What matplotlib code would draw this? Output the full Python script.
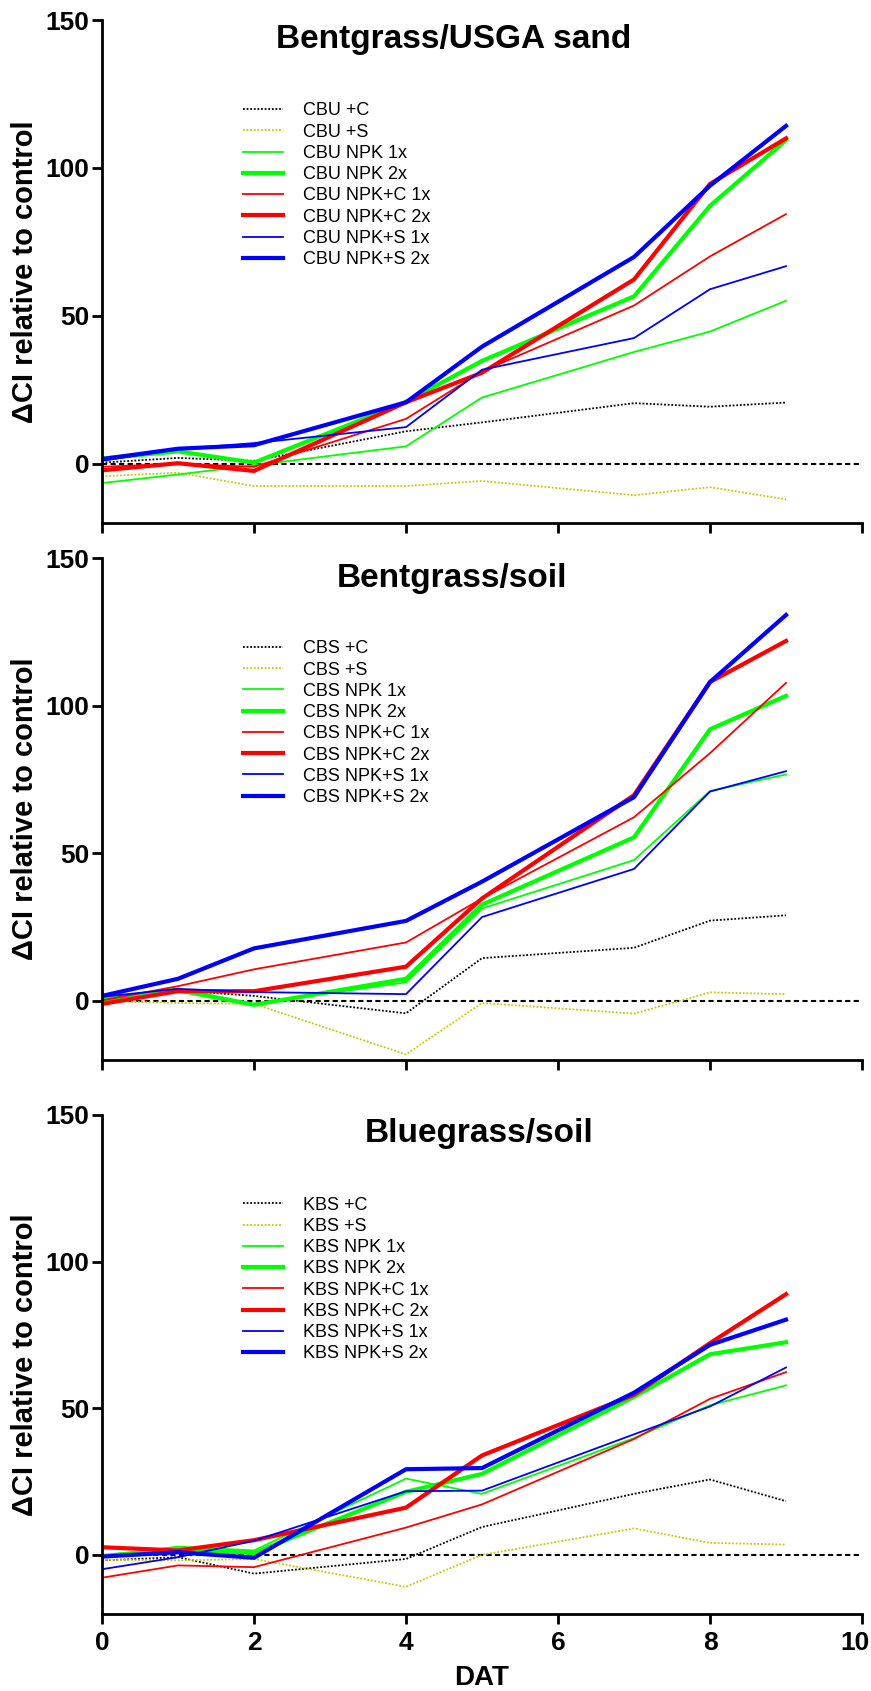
"""
Delta CI relative to control over DAT for three turf/substrate combinations.
"""

import matplotlib
matplotlib.use("Agg")
import matplotlib.pyplot as plt
from matplotlib import transforms


plt.rcParams["font.family"] = ["Liberation Sans", "DejaVu Sans"]

DAT = [0, 1, 2, 4, 5, 7, 8, 9]
TREATMENTS = ["+C", "+S", "NPK 1x", "NPK 2x", "NPK+C 1x", "NPK+C 2x", "NPK+S 1x", "NPK+S 2x"]
TITLES = ["Bentgrass/USGA sand", "Bentgrass/soil", "Bluegrass/soil"]
PREFIXES = ["CBU", "CBS", "KBS"]
Y_TICKS = [0, 50, 100, 150]
X_TICKS = [0, 2, 4, 6, 8, 10]

# Bentgrass / USGA sand
cbu_c = [0.4, 2.0, 1.0, 11.0, 14.0, 20.5, 19.3, 20.7]
cbu_s = [-4.2, -3.0, -7.5, -7.5, -5.8, -10.6, -7.9, -12.0]
cbu_npk1 = [-6.5, -3.6, -0.5, 5.9, 22.4, 37.8, 44.7, 55.1]
cbu_npk2 = [1.8, 4.2, 0.4, 20.9, 34.8, 56.6, 87.2, 109.4]
cbu_npkc1 = [-1.0, 0.0, -1.0, 15.2, 31.2, 53.5, 70.1, 84.4]
cbu_npkc2 = [-2.2, 0.2, -2.4, 20.8, 30.8, 62.3, 94.6, 110.0]
cbu_npks1 = [1.0, 5.0, 7.0, 12.4, 31.8, 42.5, 59.0, 66.8]
cbu_npks2 = [1.6, 5.1, 6.3, 20.8, 39.6, 69.9, 94.0, 114.2]

# Bentgrass / soil
cbs_c = [0.2, 3.6, 1.7, -4.2, 14.5, 18.0, 27.2, 29.0]
cbs_s = [0.0, -0.7, -1.0, -18.1, -0.7, -4.3, 2.9, 2.3]
cbs_npk1 = [1.0, 4.2, -1.0, 6.3, 31.3, 47.7, 71.1, 76.7]
cbs_npk2 = [0.2, 3.6, -1.3, 7.5, 32.6, 55.4, 92.0, 103.3]
cbs_npkc1 = [0.2, 5.0, 10.7, 19.8, 34.7, 62.2, 83.9, 107.7]
cbs_npkc2 = [-1.0, 3.3, 3.3, 11.6, 34.7, 69.7, 108.0, 121.9]
cbs_npks1 = [1.4, 4.1, 3.0, 2.3, 28.4, 44.7, 70.9, 77.8]
cbs_npks2 = [1.7, 7.5, 17.8, 27.1, 40.4, 69.0, 108.0, 130.7]

# Bluegrass / soil
kbs_c = [-1.9, -0.8, -6.4, -1.4, 9.5, 20.8, 25.7, 18.3]
kbs_s = [-1.7, -1.9, -1.4, -10.9, 0.0, 9.0, 4.1, 3.5]
kbs_npk1 = [-0.4, 2.8, 1.5, 26.0, 20.8, 39.8, 51.0, 57.8]
kbs_npk2 = [-0.4, 1.9, 0.6, 21.5, 27.6, 53.9, 68.4, 72.5]
kbs_npkc1 = [-7.8, -3.6, -4.2, 9.3, 17.2, 39.5, 53.2, 62.3]
kbs_npkc2 = [2.6, 1.5, 5.0, 16.1, 33.9, 54.6, 72.2, 88.9]
kbs_npks1 = [-4.9, -0.8, 4.8, 21.7, 21.9, 41.1, 50.6, 63.9]
kbs_npks2 = [-0.6, 0.9, -1.0, 29.2, 29.6, 55.3, 71.6, 80.2]

PANELS = [
    [cbu_c, cbu_s, cbu_npk1, cbu_npk2, cbu_npkc1, cbu_npkc2, cbu_npks1, cbu_npks2],
    [cbs_c, cbs_s, cbs_npk1, cbs_npk2, cbs_npkc1, cbs_npkc2, cbs_npks1, cbs_npks2],
    [kbs_c, kbs_s, kbs_npk1, kbs_npk2, kbs_npkc1, kbs_npkc2, kbs_npks1, kbs_npks2],
]

DOT = (0, (1, 1))
STYLES = [
    ("black", 1.3, DOT),
    ("#c8c800", 1.3, DOT),
    ("#00ff00", 1.3, "-"),
    ("#00ff00", 3.0, "-"),
    ("#ff0000", 1.3, "-"),
    ("#ff0000", 3.0, "-"),
    ("#0000ff", 1.3, "-"),
    ("#0000ff", 3.0, "-"),
]

# axes boxes in pixels: (top, bottom) of a 871 x 1691 figure
W, H = 871, 1691
LEFT, RIGHT = 102, 862
BOXES = [(20, 523), (558, 1060), (1115, 1613.5)]
TITLE_X = [0.463, 0.461, 0.496]
TITLE_Y = [0.944, 0.942, 0.946]

fig = plt.figure(figsize=(W / 100, H / 100), dpi=100)

for i, (top, bottom) in enumerate(BOXES):
    ax = fig.add_axes([LEFT / W, 1 - bottom / H, (RIGHT - LEFT) / W, (bottom - top) / H])
    ax.axhline(0, color="black", lw=1.5, ls=(0, (2.5, 1.6)), zorder=1)
    for values, treatment, (color, lw, ls) in zip(PANELS[i], TREATMENTS, STYLES):
        ax.plot(DAT, values, color=color, lw=lw, ls=ls,
                label=f"{PREFIXES[i]} {treatment}", zorder=2)

    ax.set_xlim(0, 10)
    ax.set_ylim(-20, 150)
    ax.set_xticks(X_TICKS)
    ax.set_yticks(Y_TICKS)
    for side in ("top", "right"):
        ax.spines[side].set_visible(False)
    for side in ("left", "bottom"):
        ax.spines[side].set_linewidth(2.0)
    ax.tick_params(direction="out", length=7.2, width=2.0, labelsize=19, pad=2)
    ax.tick_params(axis="x", pad=5.5)
    for lab in ax.get_yticklabels() + ax.get_xticklabels():
        lab.set_fontweight("bold")
    if i < 2:
        ax.set_xticklabels([])
    else:
        ax.set_xlabel("DAT", fontsize=20, fontweight="bold", labelpad=7)
        # keep the last label inside the figure, as in the original
        last = ax.get_xticklabels()[-1]
        last.set_horizontalalignment("right")
        last.set_transform(last.get_transform() +
                           transforms.ScaledTranslation(0.075, 0, fig.dpi_scale_trans))

    ax.text(TITLE_X[i], TITLE_Y[i], TITLES[i], transform=ax.transAxes,
            ha="center", va="baseline", fontsize=24, fontweight="bold")

    ax.legend(loc="upper left", bbox_to_anchor=(0.1855, 0.836), frameon=False,
              fontsize=13, borderpad=0, borderaxespad=0, handlelength=2.2,
              handletextpad=1.1, labelspacing=0.235)

    fig.text(25 / W, 1 - (top + bottom) / 2 / H, "ΔCI relative to control",
             rotation=90, ha="center", va="center", fontsize=21, fontweight="bold")

fig.savefig("out.png", dpi=100)
